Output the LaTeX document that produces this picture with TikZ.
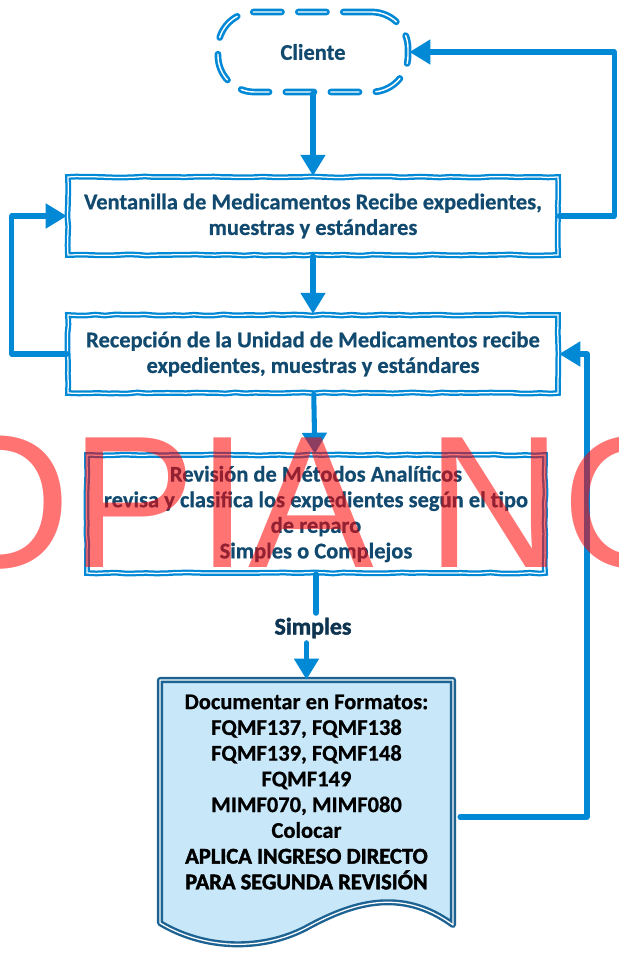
\documentclass[tikz,border=0pt]{standalone}
\usepackage{fontspec}
\setmainfont{Carlito}[BoldFeatures={FakeBold=0.7}]
\newfontfamily\markfont{Liberation Sans}
\newfontfamily\heavyfont[FakeBold=1.8]{Carlito Bold}
\usetikzlibrary{arrows.meta,decorations.pathmorphing}

\definecolor{flowblue}{RGB}{2,137,214}
\definecolor{textblue}{RGB}{17,74,110}
\definecolor{docblue}{RGB}{28,98,146}
\definecolor{docfill}{RGB}{200,232,250}
\definecolor{labelblue}{RGB}{14,52,80}

\tikzset{
  sketch/.style={decorate, decoration={random steps, segment length=7pt, amplitude=0.4pt}},
  procbox/.style={draw=flowblue, line width=1.6pt, double=white, double distance=0.9pt,
    sketch, align=center, inner sep=0pt, text=textblue,
    font=\bfseries\fontsize{16}{18.2}\selectfont},
  clientbox/.style={draw=flowblue, line width=1.9pt, double=white, double distance=1pt,
    rounded corners=26pt, dash pattern=on 20pt off 12pt, line cap=round,
    minimum width=4.75cm, minimum height=2cm, text=textblue,
    font=\bfseries\fontsize{16}{18.2}\selectfont},
  link/.style={draw=flowblue, line width=3.6pt, line cap=round, line join=round},
  flow/.style={link, -{Triangle[width=17pt,length=15pt]}},
  docshape/.style={draw=docblue, line width=1.7pt, double=white, double distance=0.9pt,
    fill=docfill, line join=round},
  doctext/.style={align=center, inner sep=0pt, minimum width=7.325cm, minimum height=5.6cm,
    text=black, font=\bfseries\fontsize{16}{18.3}\selectfont},
  tagtext/.style={inner sep=3pt, text=labelblue, font=\heavyfont\fontsize{17}{20}\selectfont},
  watermark/.style={anchor=base west, inner sep=0pt, text=red, text opacity=0.55,
    font=\markfont\fontsize{134}{134}\selectfont}
}

\begin{document}
\begin{tikzpicture}[x=0.025cm,y=-0.025cm]
\clip (0,0) rectangle (618,953);

\node[clientbox] (cliente) at (313,52) {Cliente};
\node[procbox, minimum width=12.25cm, minimum height=1.95cm] (ventanilla) at (313,216)
  {Ventanilla de Medicamentos Recibe expedientes,\\ muestras y estándares};
\node[procbox, minimum width=12.25cm, minimum height=1.95cm] (recepcion) at (313,354)
  {Recepción de la Unidad de Medicamentos recibe\\ expedientes, muestras y estándares};
\node[procbox, minimum width=11.45cm, minimum height=2.95cm] (revision) at (316,514)
  {Revisión de Métodos Analíticos\\ revisa y clasifica los expedientes según el tipo\\ de reparo\\ Simples o Complejos};
\node[tagtext] (simples) at (313,628) {Simples};

\draw[docshape] (160,680) -- (453,680) -- (453,925)
  .. controls (400,886) and (350,904) .. (306,928)
  .. controls (262,951) and (205,950) .. (160,923) -- cycle;
\node[doctext] (formatos) at (306.5,792) {Documentar en Formatos:\\ FQMF137, FQMF138\\
  FQMF139, FQMF148\\ FQMF149\\ MIMF070, MIMF080\\ Colocar\\
  {\heavyfont APLICA INGRESO DIRECTO}\\ {\heavyfont PARA SEGUNDA REVISIÓN}};
\coordinate (docout) at (460,817);

\draw[flow] (cliente) -- (ventanilla);
\draw[flow] (ventanilla) -- (recepcion);
\draw[flow] (recepcion) -- (revision);
\draw[link] (revision.south) -- (revision.south |- simples.north);
\draw[flow] (simples.south -| formatos.north) -- (formatos.north);
\draw[flow] (recepcion.west) -- ++(-55,0) |- (ventanilla.west);
\draw[flow] (ventanilla.east) -- ++(55,0) |- (cliente.east);
\draw[flow] (docout) -- ++(127,0) |- (recepcion.east);

\node[watermark] (copia) at (-212,567) {COPIA NO CONTROLADA};
\end{tikzpicture}
\end{document}
